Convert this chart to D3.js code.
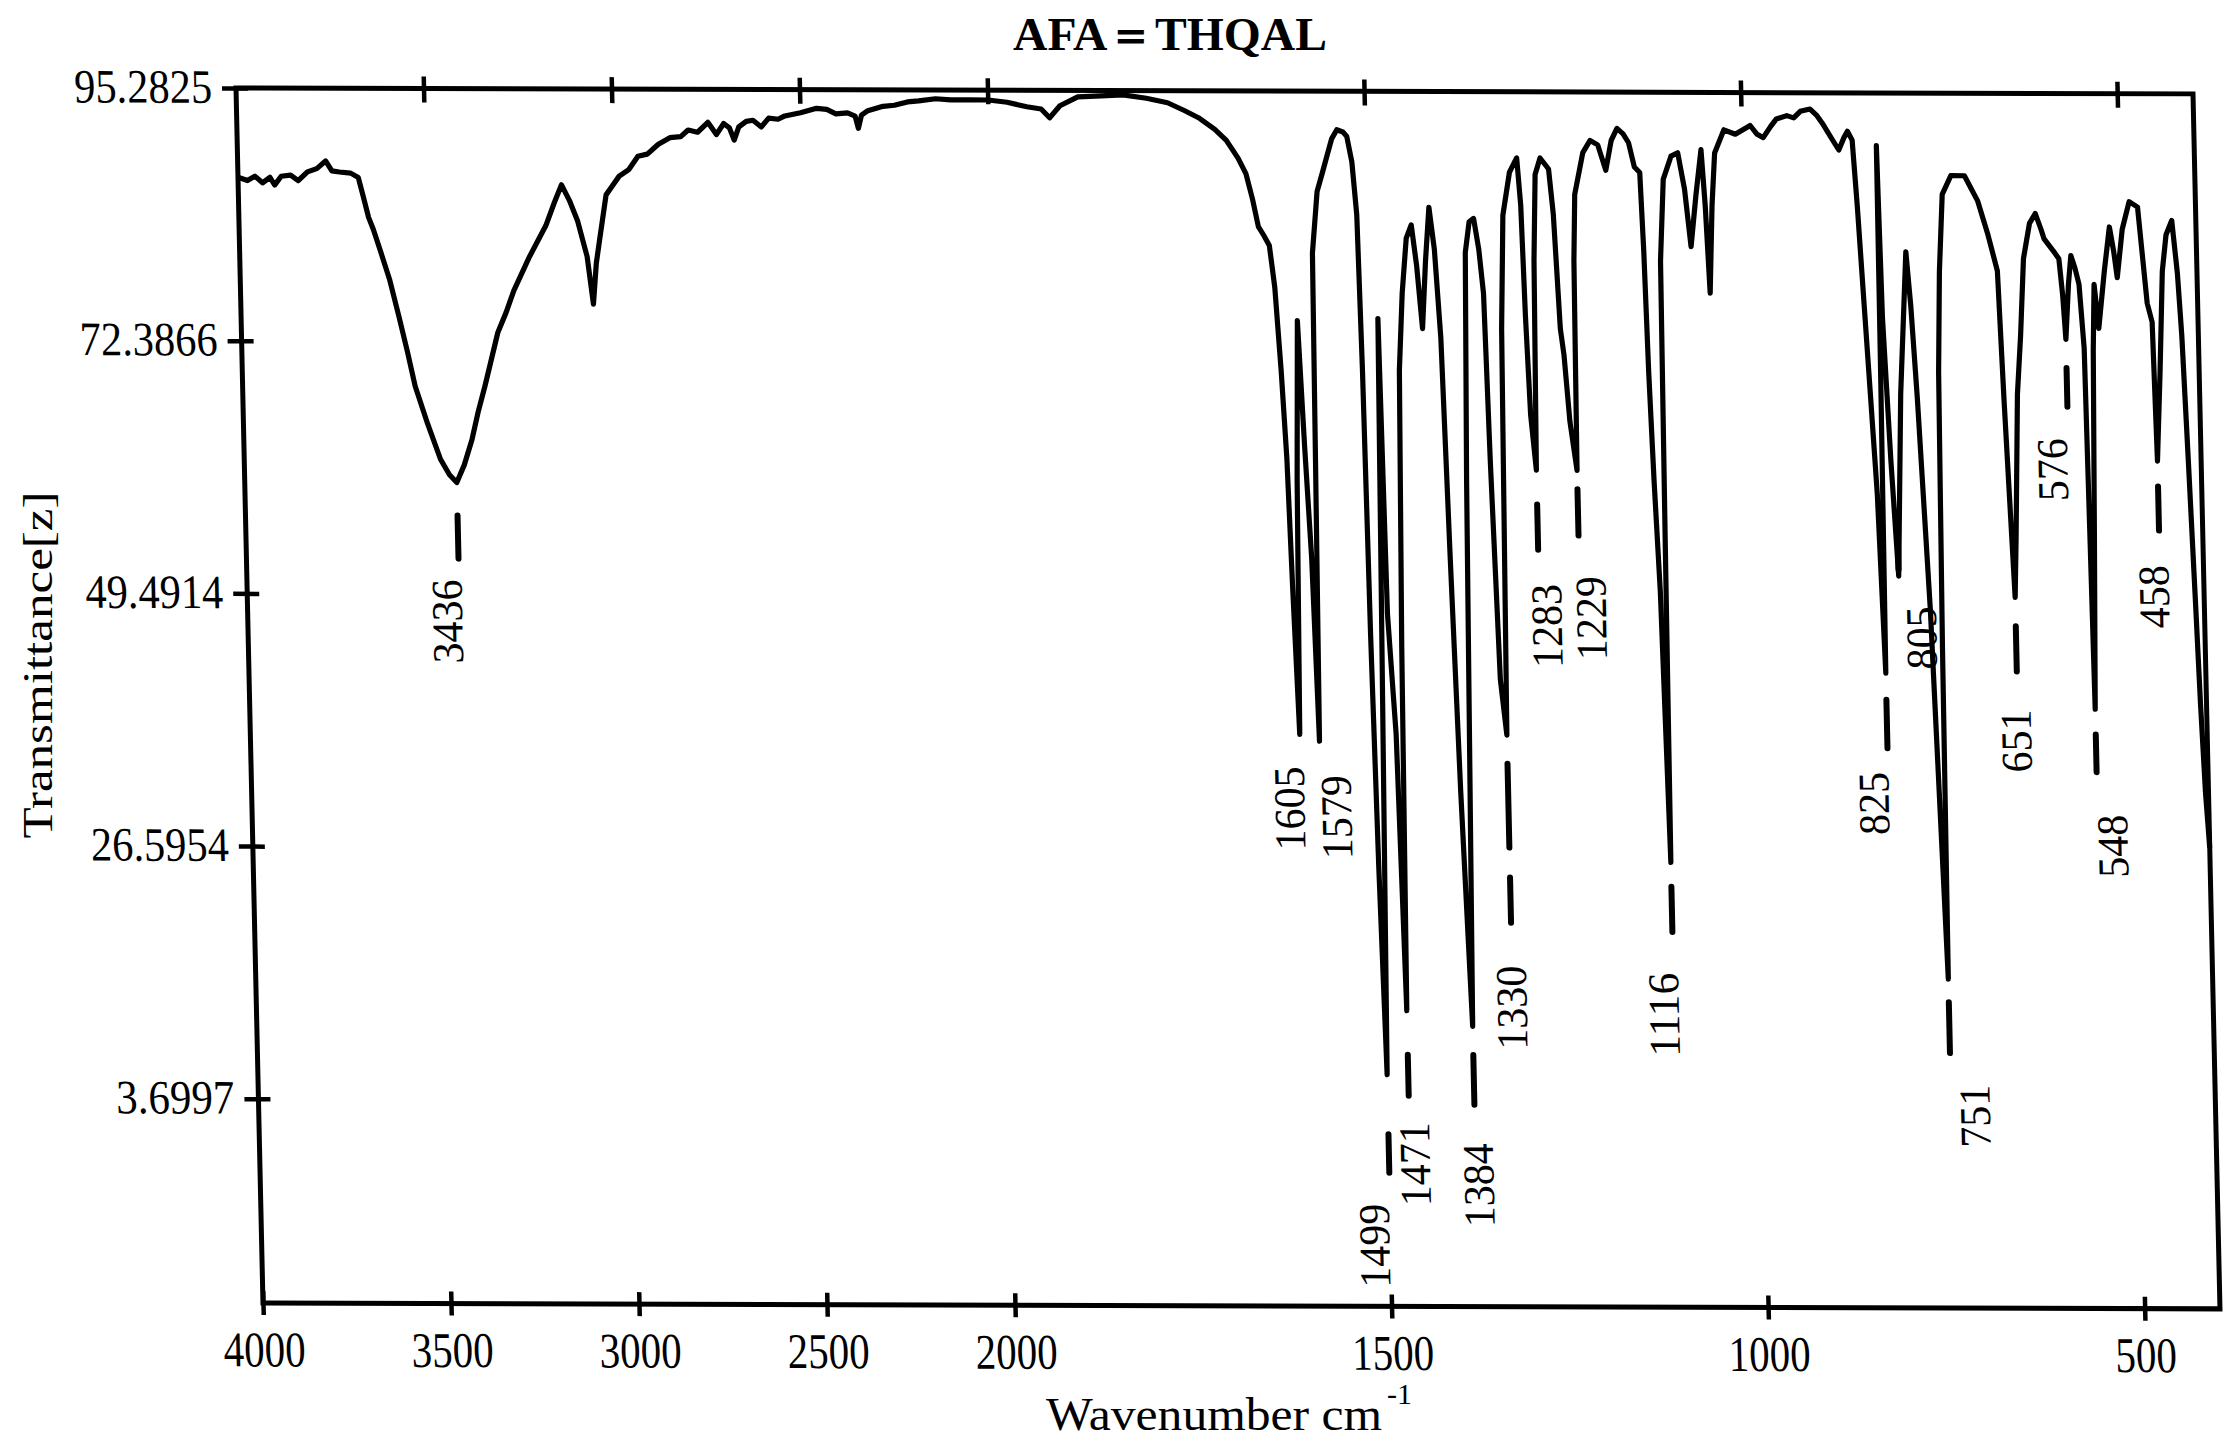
<!DOCTYPE html>
<html>
<head>
<meta charset="utf-8">
<title>AFA=THQAL IR spectrum</title>
<script src="https://d3js.org/d3.v7.min.js"></script>
<style>
  body { margin: 0; background: #fff; }
  svg { display: block; }
  .frame { fill: none; stroke: #000; stroke-width: 5px; }
  .tick-mark { stroke: #000; stroke-width: 4.5px; }
  .spectrum { fill: none; stroke: #000; stroke-width: 5.2px; stroke-linejoin: round; }
  .peak-mark { stroke: #000; stroke-width: 6px; stroke-linecap: round; }
  text { font-family: "Liberation Serif", "DejaVu Serif", serif; fill: #000; }
</style>
</head>
<body>
<svg width="2232" height="1444"></svg>
<script>
const chartTitle = "AFA＝THQAL";
const xTicks = [4000, 3500, 3000, 2500, 2000, 1500, 1000, 500];
const yTicks = [95.2825, 72.3866, 49.4914, 26.5954, 3.6997];
const yBottom = -14.8;

// [wavenumber, transmittance]
const traceAbove2000 = [
  [4000, 87.2], [3975, 86.9], [3955, 87.3], [3935, 86.7], [3915, 87.2], [3903, 86.5], [3885, 87.3],
  [3860, 87.4], [3840, 86.9], [3815, 87.7], [3790, 88.0], [3766, 88.7], [3750, 87.8], [3730, 87.7],
  [3700, 87.6], [3680, 87.2], [3668, 85.5], [3655, 83.6], [3643, 82.5], [3625, 80.5], [3603, 78.0],
  [3580, 74.6], [3560, 71.5], [3541, 68.3], [3510, 64.9], [3478, 61.7], [3455, 60.3], [3436, 59.6],
  [3415, 61.2], [3393, 63.5], [3375, 66.0], [3355, 68.4], [3318, 73.2], [3295, 75.0], [3273, 77.0],
  [3229, 80.1], [3184, 82.9], [3160, 85.0], [3140, 86.6], [3120, 85.2], [3099, 83.3], [3076, 80.1],
  [3066, 77.0], [3062, 75.8], [3052, 79.5], [3041, 81.8], [3022, 85.7], [3005, 86.5], [2986, 87.4],
  [2960, 88.0], [2935, 89.2], [2910, 89.4], [2880, 90.3], [2849, 90.9], [2820, 91.0], [2800, 91.6],
  [2775, 91.4], [2747, 92.3], [2725, 91.2], [2705, 92.2], [2690, 91.8], [2678, 90.7], [2665, 91.9],
  [2645, 92.4], [2627, 92.5], [2605, 91.9], [2585, 92.7], [2560, 92.6], [2542, 92.9], [2500, 93.2],
  [2457, 93.6], [2430, 93.5], [2406, 93.1], [2375, 93.2], [2355, 92.9], [2347, 91.8], [2338, 93.0],
  [2321, 93.4], [2280, 93.8], [2250, 93.9], [2215, 94.2], [2185, 94.3], [2140, 94.5], [2100, 94.4],
  [2050, 94.4], [2000, 94.4]
];

const traceBelow2000 = [
  [2000, 94.4], [1975, 94.2], [1949, 93.8], [1930, 93.6], [1919, 92.8], [1905, 93.9], [1881, 94.7],
  [1850, 94.8], [1821, 94.9], [1790, 94.6], [1762, 94.2], [1740, 93.5], [1720, 92.8], [1700, 91.8],
  [1685, 90.8], [1670, 89.2], [1660, 87.8], [1652, 85.5], [1645, 83.0], [1638, 82.2], [1631, 81.3],
  [1625, 77.5], [1619, 70.0], [1614, 62.0], [1610, 50.0], [1605, 37.0], [1601, 60.0], [1596, 74.5],
  [1590, 63.0], [1584, 53.0], [1579, 36.4], [1576, 62.0], [1574, 80.6], [1566, 86.2], [1558, 88.0],
  [1552, 89.4], [1545, 91.0], [1538, 91.8], [1530, 91.6], [1525, 91.2], [1519, 88.9], [1514, 84.1],
  [1511, 70.0], [1508, 46.0], [1504, 25.0], [1499, 6.2], [1494, 40.0], [1489, 74.7], [1485, 48.0],
  [1477, 37.0], [1471, 12.0], [1467, 45.0], [1462, 70.0], [1456, 77.0], [1449, 82.0], [1442, 83.2],
  [1436, 79.5], [1430, 73.8], [1424, 80.0], [1418, 84.8], [1412, 81.0], [1406, 73.0], [1400, 53.0],
  [1393, 32.0], [1384, 10.6], [1380, 35.0], [1376, 60.0], [1371, 80.7], [1365, 83.5], [1359, 83.8],
  [1353, 81.0], [1348, 77.0], [1344, 62.0], [1337, 42.0], [1330, 37.0], [1325, 73.8], [1320, 84.1],
  [1310, 88.0], [1300, 89.3], [1296, 85.0], [1293, 75.0], [1289, 66.0], [1283, 61.0], [1280, 80.0],
  [1276, 87.8], [1269, 89.3], [1258, 88.3], [1253, 84.2], [1247, 73.8], [1243, 71.5], [1237, 65.4],
  [1229, 61.0], [1227, 80.0], [1224, 86.0], [1212, 89.8], [1202, 90.9], [1192, 90.5], [1182, 88.2],
  [1174, 90.9], [1166, 92.0], [1158, 91.5], [1151, 90.7], [1144, 88.5], [1137, 88.0], [1134, 81.0],
  [1131, 70.0], [1127, 60.0], [1122, 50.0], [1116, 25.5], [1114, 55.0], [1112, 80.0], [1106, 87.4],
  [1095, 89.5], [1086, 89.8], [1078, 86.5], [1071, 81.3], [1063, 86.0], [1055, 90.1], [1051, 85.0],
  [1047, 77.1], [1042, 85.0], [1037, 89.8], [1024, 91.9], [1009, 91.5], [989, 92.3], [980, 91.5],
  [972, 91.2], [962, 92.2], [954, 92.9], [940, 93.2], [931, 93.0], [922, 93.6], [909, 93.8],
  [900, 93.2], [892, 92.4], [880, 91.0], [872, 90.1], [865, 91.2], [860, 91.8], [854, 91.0],
  [849, 84.9], [843, 76.2], [837, 67.6], [831, 58.9], [825, 42.7], [823, 70.0], [822, 90.5],
  [819, 75.0], [812, 62.0], [805, 51.5], [797, 68.0], [786, 80.9], [781, 76.0], [775, 67.6],
  [764, 48.5], [751, 15.0], [749, 45.0], [746, 70.0], [742, 79.1], [736, 86.1], [724, 87.8],
  [706, 87.8], [689, 85.5], [677, 82.6], [665, 79.2], [660, 67.6], [651, 49.6], [648, 55.0],
  [642, 68.0], [636, 73.4], [630, 80.3], [621, 83.5], [613, 84.4], [606, 83.0], [602, 82.1],
  [590, 81.0], [583, 80.3], [579, 77.0], [576, 73.0], [571, 78.0], [567, 80.6], [562, 79.5],
  [557, 78.0], [552, 72.2], [550, 56.0], [548, 39.5], [544, 55.0], [540, 72.0], [537, 78.0],
  [532, 74.0], [523, 79.2], [515, 83.2], [510, 81.0], [506, 78.6], [498, 83.0], [488, 85.5],
  [477, 85.0], [467, 76.3], [461, 74.6], [458, 62.0], [452, 70.0], [446, 79.2], [440, 82.5],
  [432, 83.8], [426, 79.0], [422, 73.4], [417, 62.0], [412, 50.0], [408, 40.0], [404, 32.0],
  [400, 27.0]
];

// peak annotations: label, transmittance at the minimum, marker dashes, label centre
const peakLabels = ["3436", "1605", "1579", "1499", "1471", "1384", "1330", "1283", "1229",
                    "1116", "825", "805", "751", "651", "576", "548", "458"];
const peakMinT   = [59.6, 37.0, 36.4, 6.2, 12.0, 10.6, 37.0, 61.0, 61.0,
                    25.5, 42.7, 51.5, 15.0, 49.6, 73.0, 39.5, 62.0];
const peakMarks  = [[[56.6, 52.7]], [], [], [[0.8, -2.7]], [[8.0, 4.3]], [[8.0, 3.5]],
                    [[34.4, 26.8], [24.1, 20.0]], [[57.9, 53.8]], [[59.3, 55.1]], [[23.3, 19.2]],
                    [[40.3, 35.9]], [[56.6, 52.1]], [[12.9, 8.3]], [[47.0, 42.9]], [[70.4, 66.9]],
                    [[37.2, 33.8]], [[59.7, 55.7]]];
const labelWn    = [3468, 1620, 1558, 1520, 1464, 1380, 1331, 1273, 1214,
                    1129, 844, 776, 719, 653, 597, 528, 466];
const labelT     = [47.0, 30.3, 29.5, -9.3, -1.9, -3.8, 12.3, 46.9, 47.6,
                    11.7, 30.9, 45.9, 2.6, 36.6, 61.2, 27.1, 49.7];

const spectrum = traceAbove2000.concat(traceBelow2000.slice(1));
const peaks = peakLabels.map((label, i) => ({
  label, wn: +label, t: peakMinT[i], marks: peakMarks[i], lw: labelWn[i], lt: labelT[i]
}));

const svg = d3.select('svg');
const W = 1957, H = 1215;

// scanned sheet is slightly sheared; reproduce with an affine transform
const plot = svg.append('g')
  .attr('transform', 'matrix(1,0.003,0.0222,1,236,88)');

// 2x expansion below 2000 cm-1
const x = d3.scaleLinear().domain([4000, 2000, 400]).range([0, 752, W]);
const y = d3.scaleLinear().domain([yBottom, yTicks[0]]).range([H, 0]);

// bottom axis
const xAxis = plot.append('g')
  .attr('transform', `translate(0,${H})`)
  .call(d3.axisBottom(x).tickValues(xTicks).tickFormat(d3.format('d')).tickSize(12));
xAxis.select('.domain').remove();
xAxis.selectAll('.tick line').attr('class', 'tick-mark').attr('y1', -12).attr('y2', 12);
xAxis.selectAll('.tick text')
  .attr('y', 46).attr('dy', '0.35em')
  .style('font-size', '50px')
  .attr('textLength', d => String(d).length * 20.5)
  .attr('lengthAdjust', 'spacingAndGlyphs');

// top ticks
plot.append('g')
  .selectAll('line')
  .data(xTicks.slice(1))
  .join('line')
  .attr('class', 'tick-mark')
  .attr('x1', d => x(d)).attr('x2', d => x(d))
  .attr('y1', -12).attr('y2', 14);

// left axis
const yAxis = plot.append('g')
  .call(d3.axisLeft(y).tickValues(yTicks).tickFormat(d3.format('.4f')).tickSize(14));
yAxis.select('.domain').remove();
yAxis.selectAll('.tick line').attr('class', 'tick-mark').attr('x1', 12).attr('x2', -14);
yAxis.selectAll('.tick text')
  .attr('x', -24).attr('dy', '0.3em')
  .style('font-size', '48px')
  .attr('textLength', d => d3.format('.4f')(d).length * 19.7)
  .attr('lengthAdjust', 'spacingAndGlyphs');

// frame
plot.append('rect')
  .attr('class', 'frame')
  .attr('x', 0).attr('y', 0)
  .attr('width', W).attr('height', H);

// spectrum
const line = d3.line().x(d => x(d[0])).y(d => y(d[1]));
plot.append('path')
  .datum(spectrum)
  .attr('class', 'spectrum')
  .attr('d', line);

// peak markers
const peakG = plot.append('g');
peakG.selectAll('g.peak')
  .data(peaks)
  .join('g')
  .attr('class', 'peak')
  .each(function(p) {
    const g = d3.select(this);
    g.selectAll('line')
      .data(p.marks)
      .join('line')
      .attr('class', 'peak-mark')
      .attr('x1', x(p.wn)).attr('x2', x(p.wn))
      .attr('y1', m => y(m[0])).attr('y2', m => y(m[1]));
    g.append('text')
      .attr('transform', `translate(${x(p.lw)},${y(p.lt)}) rotate(-90)`)
      .attr('text-anchor', 'middle')
      .attr('dominant-baseline', 'central')
      .style('font-size', '44px')
      .attr('textLength', p.label.length * 21)
      .attr('lengthAdjust', 'spacingAndGlyphs')
      .text(p.label);
  });

// titles
svg.append('text')
  .attr('x', 1170).attr('y', 50)
  .attr('text-anchor', 'middle')
  .style('font-size', '46px').style('font-weight', 'bold')
  .attr('textLength', 314).attr('lengthAdjust', 'spacingAndGlyphs')
  .text(chartTitle);

svg.append('text')
  .attr('transform', 'translate(38,665) rotate(-90)')
  .attr('text-anchor', 'middle')
  .attr('dominant-baseline', 'central')
  .style('font-size', '42px')
  .attr('textLength', 347).attr('lengthAdjust', 'spacingAndGlyphs')
  .text('Transmittance[z]');

svg.append('text')
  .attr('x', 1046).attr('y', 1430)
  .style('font-size', '46px')
  .attr('textLength', 336).attr('lengthAdjust', 'spacingAndGlyphs')
  .text('Wavenumber cm');

svg.append('text')
  .attr('x', 1387).attr('y', 1404)
  .style('font-size', '30px')
  .text('-1');
</script>
</body>
</html>
